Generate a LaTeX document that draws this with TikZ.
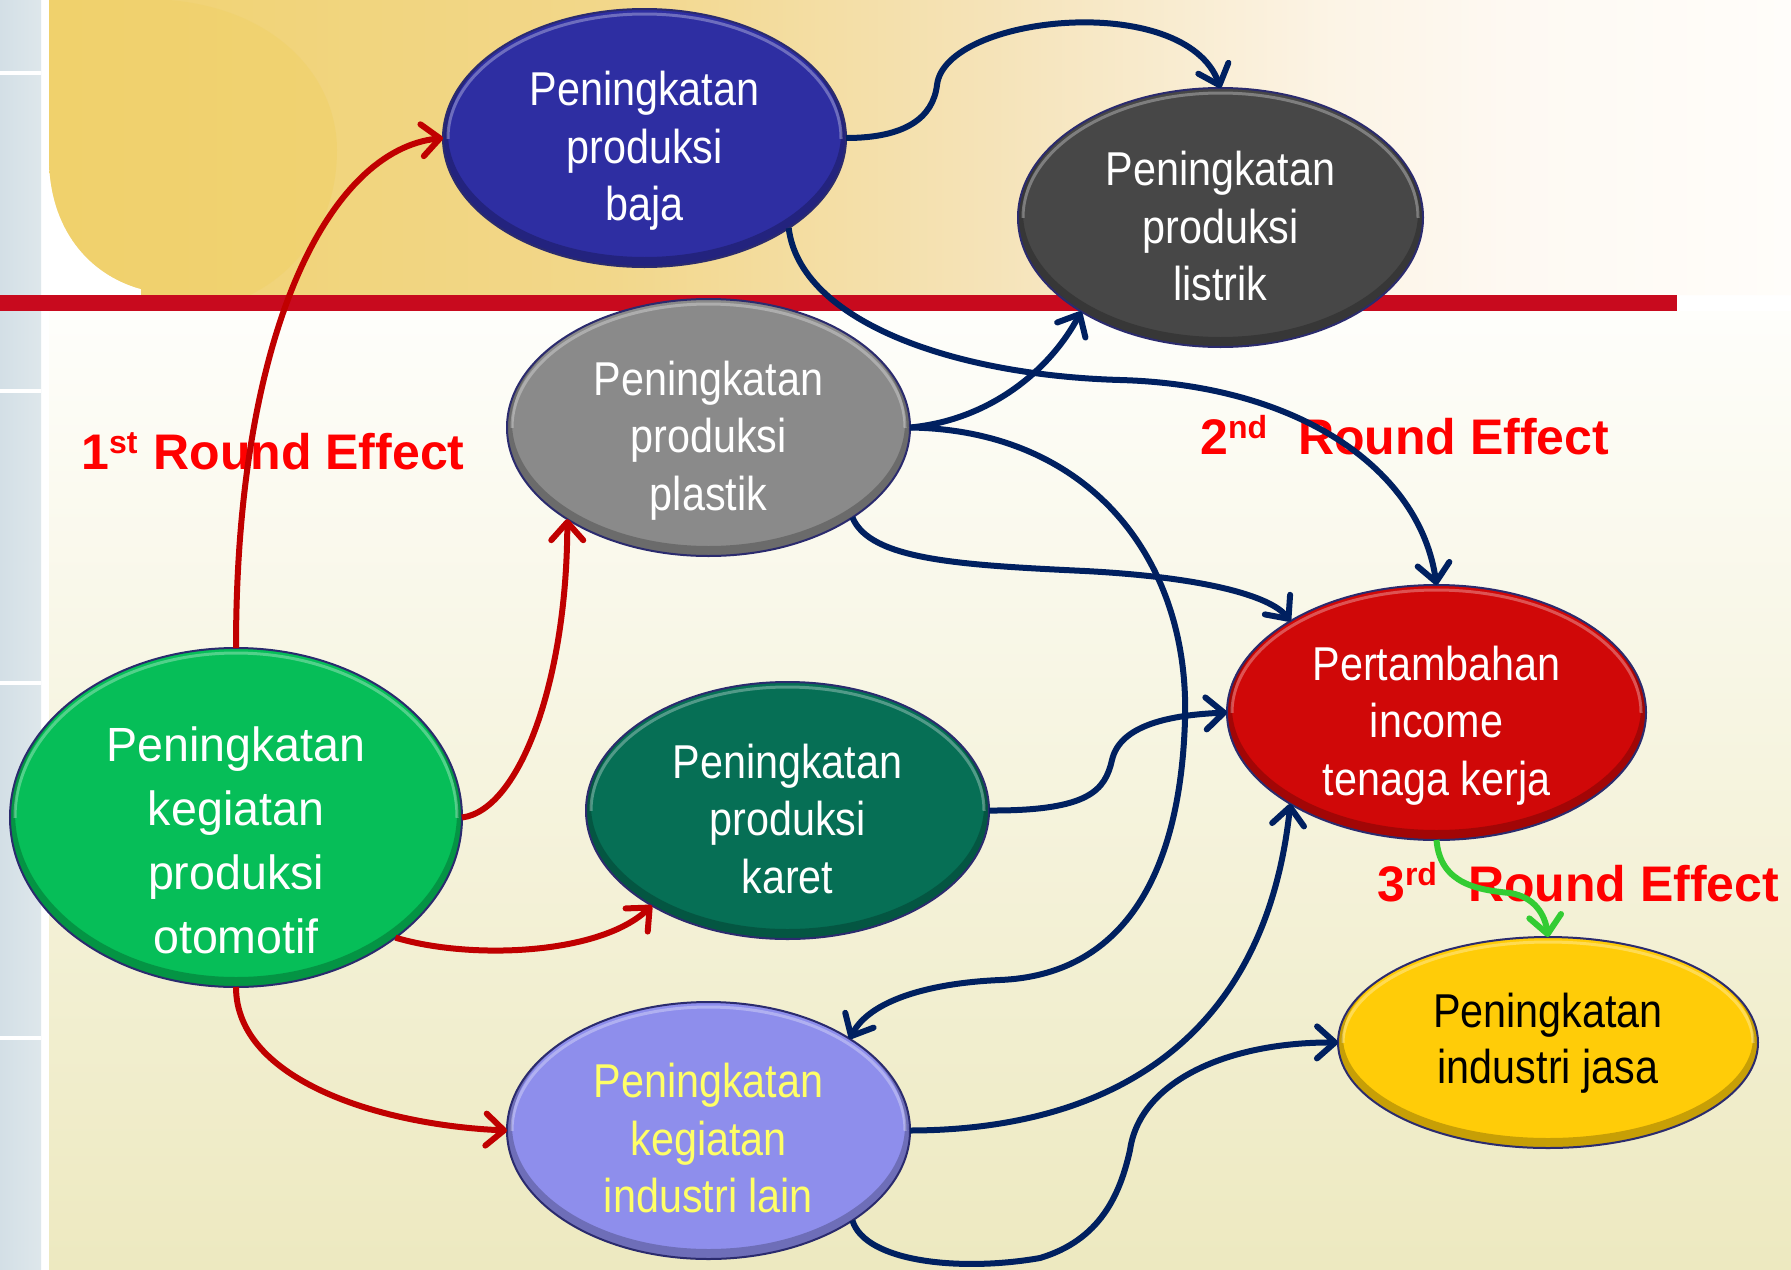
\documentclass[tikz,border=0pt]{standalone}
\usepackage{fontspec}
\setmainfont{Liberation Sans}
\newfontfamily\bubblefont{Liberation Sans}[FakeStretch=0.87]
\newfontfamily\widebubblefont{Liberation Sans}[FakeStretch=0.97]
\usetikzlibrary{shapes.geometric,arrows.meta}

% background colours
\definecolor{stripL}{HTML}{D3DFE6}
\definecolor{stripR}{HTML}{DEE7EB}
\definecolor{bandA}{HTML}{F0D270}
\definecolor{bandB}{HTML}{F2D78A}
\definecolor{bandC}{HTML}{F5E3B8}
\definecolor{bandD}{HTML}{FCF4E6}
\definecolor{bandE}{HTML}{FEF9F2}
\definecolor{bandF}{HTML}{FFFDFA}
\definecolor{blobcol}{HTML}{F0D16A}
\definecolor{floorT}{HTML}{FEFEFB}
\definecolor{floorB}{HTML}{EDE9C0}
\definecolor{barred}{HTML}{C80A1E}
% bubbles
\definecolor{rimblue}{HTML}{2B2B6E}
\definecolor{bajacol}{HTML}{2E2EA2}
\definecolor{listrikcol}{HTML}{474747}
\definecolor{plastikcol}{HTML}{8A8A8A}
\definecolor{otocol}{HTML}{06BE58}
\definecolor{karetcol}{HTML}{066F55}
\definecolor{incomecol}{HTML}{D00808}
\definecolor{jasacol}{HTML}{FFCC08}
\definecolor{laincol}{HTML}{8E8EEC}
\definecolor{laintext}{HTML}{FFFF66}
% connectors and labels
\definecolor{linkred}{HTML}{C00000}
\definecolor{linknavy}{HTML}{002060}
\definecolor{linkgreen}{HTML}{33CC33}
\definecolor{effred}{HTML}{FF0000}

\pgfdeclarehorizontalshading{topband}{100bp}{color(0bp)=(bandA); color(25bp)=(bandA); color(41bp)=(bandB); color(52bp)=(bandC); color(62bp)=(bandD); color(67bp)=(bandE); color(75bp)=(bandF); color(100bp)=(bandF)}

\tikzset{
  bubnode/.style={ellipse, inner sep=0pt, outer sep=0pt},
  bubedge/.style={draw=rimblue, line width=2pt},
  bubtext/.style={inner sep=0pt, anchor=north, align=center, text=white,
    font=\bubblefont\fontsize{47.5}{57.5}\selectfont},
  effect/.style={inner sep=0pt, anchor=base west, text=effred,
    font=\bfseries\fontsize{50}{50}\selectfont},
  link/.style={line width=6pt, -{Straight Barb[length=18pt,width=32pt,round]}},
  redlink/.style={link, draw=linkred},
  navylink/.style={link, draw=linknavy},
  greenlink/.style={link, draw=linkgreen},
}

% bevelled ellipse: name, x, y, x radius, y radius, fill colour
\newcommand{\bubble}[6]{%
  \node[bubnode, minimum width=2*#4pt, minimum height=2*#5pt] (#1) at (#2,#3) {};
  \fill[#6] (#1.center) ellipse[x radius=#4pt, y radius=#5pt];
  \begin{scope}
    \clip (#1.center) ellipse[x radius=#4pt, y radius=#5pt];
    \draw[black, opacity=.22, line width=10pt] ([yshift=5pt]#1.center) ellipse[x radius=#4pt, y radius=#5pt];
    \clip ([xshift=-#4pt]#1.center) rectangle ([xshift=#4pt,yshift=#5pt]#1.center);
    \draw[white, opacity=.3, line width=3pt] (#1.center) ellipse[x radius=#4pt-5pt, y radius=#5pt-5pt];
  \end{scope}
  \draw[bubedge] (#1.center) ellipse[x radius=#4pt, y radius=#5pt];
}

% ordinal suffix
\newcommand{\ordsfx}[1]{\raisebox{16pt}{\fontsize{32}{32}\selectfont #1}}

\begin{document}
\begin{tikzpicture}[x=1pt,y=-1pt]
\useasboundingbox (0,0) rectangle (1791,1269);

% page background
\fill[white] (0,0) rectangle (1791,1269);
\shade[top color=floorT, bottom color=floorB] (49,311) rectangle (1791,1269);
\shade[shading=topband] (49,0) -- (1791,0) -- (1791,295) -- (141,295) -- (141,289)
  .. controls (90,275) and (49,230) .. (49,157) -- cycle;
\fill[blobcol, opacity=.6] (49,0) -- (170,0) .. controls (280,10) and (337,80) .. (337,150)
  .. controls (337,220) and (300,270) .. (250,295) -- (141,295) -- (141,289)
  .. controls (90,275) and (49,230) .. (49,157) -- cycle;

% left side strip
\shade[left color=stripL, right color=stripR] (0,0) rectangle (41,1269);
\foreach \yy in {73,391,683,1038}
  \fill[white] (0,\yy-2) rectangle (41,\yy+2);

% divider bar
\fill[barred] (0,295) rectangle (1677,311);

% bubbles
\bubble{baja}{644.5}{138}{201.5}{129}{bajacol}
\bubble{listrik}{1220.5}{217.5}{202.5}{129.5}{listrikcol}
\bubble{plastik}{708.5}{427.5}{201.5}{128.5}{plastikcol}
\bubble{otomotif}{236}{817.5}{226}{169.5}{otocol}
\bubble{karet}{787.5}{810.5}{201.5}{128.5}{karetcol}
\bubble{income}{1436.5}{712.5}{209.5}{127.5}{incomecol}
\bubble{jasa}{1548}{1042.5}{210}{105.5}{jasacol}
\bubble{lain}{708.5}{1130.5}{201.5}{128.5}{laincol}

% bubble texts
\node[bubtext] (bajaT) at (644.5,71) {Peningkatan\\produksi\\baja};
\node[bubtext] (listrikT) at (1220.5,151) {Peningkatan\\produksi\\listrik};
\node[bubtext] (plastikT) at (708.5,360.5) {Peningkatan\\produksi\\plastik};
\node[bubtext, font=\widebubblefont\fontsize{48}{64}\selectfont] (otomotifT) at (236,727)
  {Peningkatan\\kegiatan\\produksi\\otomotif};
\node[bubtext] (karetT) at (787.5,743.5) {Peningkatan\\produksi\\karet};
\node[bubtext] (incomeT) at (1436.5,645.5) {Pertambahan\\income\\tenaga kerja};
\node[bubtext, text=black, font=\bubblefont\fontsize{47.5}{56}\selectfont] (jasaT) at (1548,993)
  {Peningkatan\\industri jasa};
\node[bubtext, text=laintext] (lainT) at (708.5,1063) {Peningkatan\\kegiatan\\industri lain};

% round labels
\node[effect] (first) at (81,469) {1\ordsfx{st}\hspace{16pt}Round Effect};
\node[effect] (second) at (1200,454) {2\ordsfx{nd}\hspace{31pt}Round Effect};
\node[effect] (third) at (1377,901) {3\ordsfx{rd}\hspace{31pt}Round Effect};

% first round
\draw[redlink] (otomotif.north) .. controls (236,330) and (330,150) .. (baja.west);
\draw[redlink] (otomotif.east) .. controls (520,810) and (567,680) .. (plastik.-147);
\draw[redlink] (otomotif.-37.6) .. controls (470,960) and (600,955) .. (karet.-145.5);
\draw[redlink] (otomotif.south) .. controls (236,1080) and (380,1125) .. (lain.west);

% second round
\draw[navylink] (baja.east) .. controls (905,138) and (933,118) .. (937,85)
  .. controls (945,15) and (1185,-10) .. (listrik.north);
\draw[navylink] (baja.-32.5) .. controls (800,320) and (950,375) .. (1120,380)
  .. controls (1300,385) and (1420,470) .. (income.north);
\draw[navylink] (plastik.east) .. controls (990,420) and (1050,370) .. (listrik.-146.4);
\draw[navylink] (plastik.east) .. controls (1090,430) and (1190,560) .. (1185,720)
  .. controls (1180,880) and (1120,975) .. (1000,980)
  .. controls (930,983) and (870,1000) .. (lain.33.6);
\draw[navylink] (plastik.-32.4) .. controls (870,560) and (960,565) .. (1085,571)
  .. controls (1200,577) and (1270,595) .. (income.148);
\draw[navylink] (karet.east) .. controls (1090,811) and (1105,790) .. (1112,760)
  .. controls (1120,725) and (1170,715) .. (income.west);
\draw[navylink] (lain.east) .. controls (1110,1130) and (1265,1040) .. (income.-148.1);
\draw[navylink] (lain.-32.4) .. controls (865,1262) and (960,1272) .. (1040,1258)
  .. controls (1100,1240) and (1120,1195) .. (1130,1150)
  .. controls (1140,1080) and (1230,1042) .. (jasa.west);

% third round
\draw[greenlink] (income.south) .. controls (1440,885) and (1480,890) .. (1510,893)
  .. controls (1535,897) and (1545,915) .. (jasa.north);
\end{tikzpicture}
\end{document}
